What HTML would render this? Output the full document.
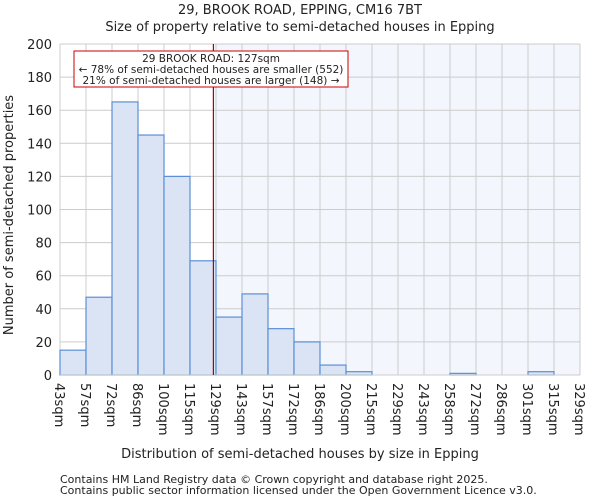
<!DOCTYPE html>
<html><head><meta charset="utf-8"><style>
body{margin:0;background:#fff;font-family:"DejaVu Sans","Liberation Sans",sans-serif}
text{font-family:"DejaVu Sans","Liberation Sans",sans-serif;fill:#222}
</style></head><body>
<svg id="c" width="600" height="500">
<text x="300" y="14" font-size="13" text-anchor="middle">29, BROOK ROAD, EPPING, CM16 7BT</text>
<text x="300" y="31" font-size="13" text-anchor="middle">Size of property relative to semi-detached houses in Epping</text>
<g id="plot"></g>
<text x="300" y="458" font-size="13" text-anchor="middle">Distribution of semi-detached houses by size in Epping</text>
<text transform="translate(13,215) rotate(-90)" font-size="13" text-anchor="middle">Number of semi-detached properties</text>
<text x="60" y="483" font-size="11">Contains HM Land Registry data © Crown copyright and database right 2025.</text>
<text x="60" y="494" font-size="11">Contains public sector information licensed under the Open Government Licence v3.0.</text>
</svg>
<script>
const categories=["43sqm","57sqm","72sqm","86sqm","100sqm","115sqm","129sqm","143sqm","157sqm","172sqm","186sqm","200sqm","215sqm","229sqm","243sqm","258sqm","272sqm","286sqm","301sqm","315sqm","329sqm"];
const counts=[15,47,165,145,120,69,35,49,28,20,6,2,0,0,0,1,0,0,2,0];
const yTicks=[0,20,40,60,80,100,120,140,160,180,200];
const propertyBinPos=[5.9];
const NS="http://www.w3.org/2000/svg";
const X0=60,X1=580,Y0=375,Y1=44,n=counts.length,bw=(X1-X0)/n;
const xs=i=>X0+i*bw, ys=v=>Y0-(v/200)*(Y0-Y1);
const g=document.getElementById('plot');
function mk(t,a,p){const e=document.createElementNS(NS,t);for(const k in a)e.setAttribute(k,a[k]);(p||g).appendChild(e);return e;}
const px=xs(propertyBinPos[0]);
let e=mk('rect',{x:px,y:Y1,width:X1-px,height:Y0-Y1,fill:'#f3f6fd'});


yTicks.forEach(v=>{
 let l=mk('line',{x1:X0,x2:X1,y1:ys(v),y2:ys(v),stroke:'#cccccc'});
 
 
 let t=mk('text',{x:X0-8,y:ys(v)+5,'font-size':13,'text-anchor':'end'});t.textContent=v;
 
 
});
categories.forEach((c,i)=>{
 let l=mk('line',{x1:xs(i),x2:xs(i),y1:Y1,y2:Y0,stroke:'#cccccc'});
 
 
 let t=mk('text',{transform:`translate(${xs(i)-5},${Y0+8}) rotate(90)`,'font-size':13,'text-anchor':'start'});t.textContent=c;
 
 
});
counts.forEach((v,i)=>{
 if(v<=0)return;
 let r=mk('rect',{x:xs(i),y:ys(v),width:bw,height:Y0-ys(v),fill:'#dae4f4',stroke:'#5b8fd8','stroke-width':1.2});
 
 
});
let ax=mk('line',{x1:X0,x2:X1,y1:Y0,y2:Y0,stroke:'#cccccc'});


let pl=mk('line',{x1:px,x2:px,y1:Y1,y2:Y0,stroke:'#b00000','stroke-width':1.2});


let bx=mk('rect',{x:74,y:51,width:274,height:36,fill:'#fff',stroke:'#cc0000'});


["29 BROOK ROAD: 127sqm","← 78% of semi-detached houses are smaller (552)","21% of semi-detached houses are larger (148) →"].forEach((s,k)=>{
 let t=mk('text',{x:211,y:62+k*11,'font-size':10.5,'text-anchor':'middle'});t.textContent=s;
 
 
});
</script>
</body></html>
